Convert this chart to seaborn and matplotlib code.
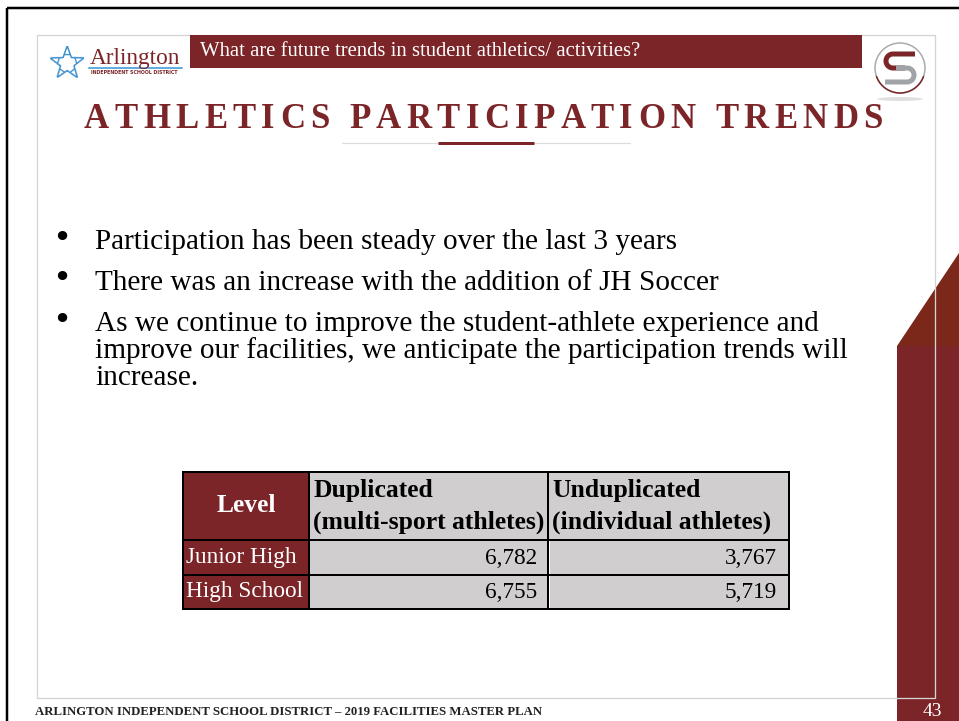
import numpy as np
import pandas as pd
import seaborn as sns
import matplotlib
matplotlib.use("Agg")
import matplotlib.pyplot as plt
from matplotlib.patches import Rectangle, Polygon, Circle, Ellipse
from matplotlib.colors import ListedColormap
from matplotlib.font_manager import FontProperties

# ---------------- data ----------------
levels = ["Junior High", "High School"]
duplicated = [6782, 6755]
unduplicated = [3767, 5719]
col_level = "Level"
col_dup = ["Duplicated", "(multi-sport athletes)"]
col_undup = ["Unduplicated", "(individual athletes)"]
bullets = [
    ["Participation has been steady over the last 3 years"],
    ["There was an increase with the addition of JH Soccer"],
    ["As we continue to improve the student-athlete experience and",
     "improve our facilities, we anticipate the participation trends will",
     "increase."],
]
question = "What are future trends in student athletics/ activities?"
title = "ATHLETICS PARTICIPATION TRENDS"
footer = "ARLINGTON INDEPENDENT SCHOOL DISTRICT \u2013 2019 FACILITIES MASTER PLAN"
page = "43"
logo_name = "Arlington"
logo_sub = "INDEPENDENT SCHOOL DISTRICT"

# ---------------- style ----------------
sns.set_theme(style="white")
plt.rcParams['font.family'] = ['Liberation Serif', 'DejaVu Serif']

RED = "#7B2528"
RED2 = "#7B2719"
GRAY = "#D0CECE"
W, H = 959, 721
PT = 0.72  # px -> pt

fig = plt.figure(figsize=(W / 100, H / 100), dpi=100)
ax = fig.add_axes([0, 0, 1, 1])
ax.set_xlim(0, W)
ax.set_ylim(H, 0)
ax.axis('off')
ax.set_zorder(2)
renderer = fig.canvas.get_renderer()


def fit_text(s, x0, x1, y, size0=12, **kw):
    t = ax.text(x0, y, s, fontsize=size0, **kw)
    w = t.get_window_extent(renderer).width
    t.set_fontsize(size0 * (x1 - x0) / w)
    return t


# outer black frame
ax.plot([7, 7], [8, H], color="black", lw=2.5 * PT, solid_capstyle='butt')
ax.plot([7, W], [8, 8], color="black", lw=2.5 * PT, solid_capstyle='butt')

# right red decoration
ax.add_patch(Polygon([(897, 346), (959, 253), (959, 346)], closed=True, color=RED2, lw=0))
ax.add_patch(Rectangle((897, 346), 62, H - 346, color=RED, lw=0))

# light gray content box
ax.add_patch(Rectangle((37, 35), 935 - 37, 698 - 35, fill=False, ec="#D4D4D4", lw=1.3 * PT))

# header bar
ax.add_patch(Rectangle((190, 35), 862 - 190, 33, color=RED, lw=0))
fit_text(question, 200, 642, 52, size0=12, color="white", va="center")

# Arlington logo
cx, cy = 67, 62
for k in range(5):
    ang = np.deg2rad(-90 + 72 * k)
    ax.text(cx + 9 * np.cos(ang), cy + 9 * np.sin(ang), "A", fontsize=11,
            color="#3C8FCF", ha="center", va="center",
            rotation=-(72 * k), family="DejaVu Sans")
fit_text(logo_name, 90, 181, 64, size0=14, color=RED, va="baseline")
ax.plot([89, 182], [67.5, 67.5], color="#63ACDE", lw=2 * PT)
fit_text(logo_sub, 91, 180, 73, size0=3.5, color=RED, va="center", fontweight="bold",
         family="DejaVu Sans")

# right logo
lx, ly = 900, 68
ax.add_patch(Ellipse((lx, 99), 46, 4, color="#D8D8D8", lw=0, alpha=0.8))
ax.add_patch(Circle((lx, ly), 25, fill=True, fc="white", ec="#A9A9A9", lw=1.5 * PT))
th = np.linspace(np.deg2rad(20), np.deg2rad(160), 40)
ax.plot(lx + 25 * np.cos(th), ly + 25 * np.sin(th), color=RED, lw=1.5 * PT)
t1 = np.linspace(np.pi / 2 * 3, np.pi / 2, 30)
rx = np.concatenate([[915, 893], 893 + 7 * np.cos(t1), [905]])
ry = np.concatenate([[54, 54], 61 + 7 * np.sin(t1), [68]])
ax.plot(rx, ry, color=RED, lw=5 * PT, solid_capstyle='butt', solid_joinstyle='round')
t2 = np.linspace(-np.pi / 2, np.pi / 2, 30)
gx = np.concatenate([[896], 907 + 7 * np.cos(t2), [885]])
gy = np.concatenate([[68], 75 + 7 * np.sin(t2), [82]])
ax.plot(gx, gy, color="#A0A4A8", lw=5 * PT, solid_capstyle='butt', solid_joinstyle='round')

# title with letter spacing
fp = FontProperties(family=['Liberation Serif'], weight='bold', size=25)
widths = [renderer.get_text_width_height_descent(ch, fp, ismath=False)[0] for ch in title]
x0t, x1t = 84, 883
gap = (x1t - x0t - sum(widths)) / (len(title) - 1)
xx = x0t
for ch, w in zip(title, widths):
    ax.text(xx, 128, ch, fontproperties=fp, color=RED, va="baseline", ha="left")
    xx += w + gap

# title underline
ax.plot([342, 630], [143, 143], color="#DDDDDD", lw=1.2 * PT)
ax.plot([438, 534], [143, 143], color=RED, lw=3 * PT, solid_capstyle='butt')

# bullets
bt = fit_text(bullets[0][0], 95, 677, 242, size0=17, color="black", va="center")
bfs = bt.get_fontsize()
line_y = [[242], [283], [324, 351, 378]]
for lines, ys in zip(bullets, line_y):
    ax.text(62, ys[0] - 4, "\u2022", fontsize=bfs * 1.1, color="black", ha="center", va="center",
            family="DejaVu Sans")
    for i, (s, y) in enumerate(zip(lines, ys)):
        if lines is bullets[0] and i == 0:
            continue
        ax.text(95, y, s, fontsize=bfs, color="black", va="center")

# table
tx0, tx1, tx2, tx3 = 183, 309, 548, 789
ty0, ty1, ty2, ty3 = 472, 540, 575, 609
ax.add_patch(Rectangle((tx0, ty0), tx1 - tx0, ty3 - ty0, color=RED, lw=0))
ax.add_patch(Rectangle((tx1, ty0), tx3 - tx1, ty1 - ty0, color=GRAY, lw=0))

ax_t = fig.add_axes([tx1 / W, 1 - ty3 / H, (tx3 - tx1) / W, (ty3 - ty1) / H])
ax_t.set_zorder(1)
df = pd.DataFrame({"Duplicated": duplicated, "Unduplicated": unduplicated}, index=levels)
sns.heatmap(df, cmap=ListedColormap([GRAY]), cbar=False, linewidths=1.2, linecolor="white",
            xticklabels=False, yticklabels=False, ax=ax_t)
ax_t.set_xlabel("")
ax_t.set_ylabel("")

hfs = fit_text(col_dup[1], 313, 545, 522, size0=15, color="black", va="center",
               fontweight="bold").get_fontsize()
ax.text(313, 490, col_dup[0], fontsize=hfs, fontweight="bold", color="black", va="center")
ax.text(552, 490, col_undup[0], fontsize=hfs, fontweight="bold", color="black", va="center")
ax.text(552, 522, col_undup[1], fontsize=hfs, fontweight="bold", color="black", va="center")
ax.text((tx0 + tx1) / 2, 506, col_level, fontsize=hfs, fontweight="bold", color="white",
        ha="center", va="center")

rfs = fit_text(levels[0], 186, 297, 558, size0=15, color="white", va="center").get_fontsize()
ax.text(186, 592, levels[1], fontsize=rfs, color="white", va="center")
row_y = [558, 592]
for i in range(len(levels)):
    ax.text(537, row_y[i], f"{duplicated[i]:,}", fontsize=rfs, color="black", ha="right", va="center")
    ax.text(777, row_y[i], f"{unduplicated[i]:,}", fontsize=rfs, color="black", ha="right", va="center")

blw = 2 * PT
ax.add_patch(Rectangle((tx0, ty0), tx3 - tx0, ty3 - ty0, fill=False, ec="black", lw=blw))
for y in (ty1, ty2):
    ax.plot([tx0, tx3], [y, y], color="black", lw=blw)
for x in (tx1, tx2):
    ax.plot([x, x], [ty0, ty3], color="black", lw=blw)

# footer
fit_text(footer, 35, 537, 712, size0=7.5, color="#222222", va="center", fontweight="bold")
ax.text(932, 711, page, fontsize=14, color="white", ha="center", va="center")

fig.savefig("out.png", dpi=100)
